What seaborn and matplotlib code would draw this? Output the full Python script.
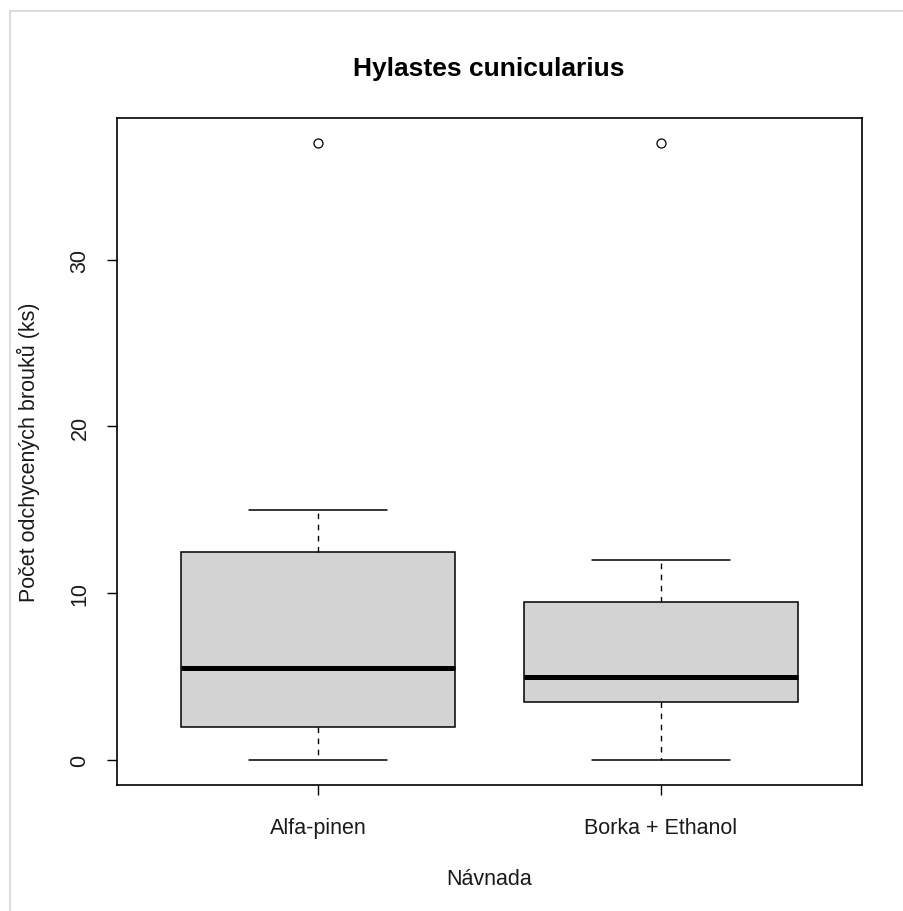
import matplotlib
matplotlib.use("Agg")
import matplotlib.pyplot as plt
import seaborn as sns
from matplotlib.lines import Line2D

# Box statistics per bait (number of trapped beetles)
categories = ["Alfa-pinen", "Borka + Ethanol"]
whisker_low = [0, 0]
q1 = [2, 3.5]
median = [5.5, 5]
q3 = [12.5, 9.5]
whisker_high = [15, 12]
outliers = [[37], [37]]

title = "Hylastes cunicularius"
xlabel = "Návnada"
ylabel = "Počet odchycených brouků (ks)"
yticks = [0, 10, 20, 30]

sns.set_theme(style="white")
plt.rcParams["font.family"] = ["Liberation Sans", "DejaVu Sans"]

W, H = 904, 912
fig = plt.figure(figsize=(W / 100, H / 100), dpi=100)
ax = fig.add_axes([117 / W, 1 - 786 / H, (862 - 117) / W, (786 - 119) / H])

stats = []
for i, name in enumerate(categories):
    stats.append(dict(label=name, whislo=whisker_low[i], q1=q1[i], med=median[i],
                      q3=q3[i], whishi=whisker_high[i], fliers=outliers[i]))

ax.bxp(stats, positions=range(1, len(categories) + 1), widths=0.8,
       patch_artist=True, showfliers=True,
       boxprops=dict(facecolor="#d3d3d3", edgecolor="black", linewidth=1.1),
       medianprops=dict(color="black", linewidth=3.6, solid_capstyle="butt"),
       whiskerprops=dict(color="black", linewidth=1.0, linestyle=(0, (4, 4))),
       capprops=dict(color="black", linewidth=1.1),
       capwidths=0.4,
       flierprops=dict(marker="o", markersize=6.5, markerfacecolor="none",
                       markeredgecolor="black", markeredgewidth=0.9))

ax.set_xlim(0.414, 2.586)
ax.set_ylim(-1.48, 38.48)
ax.set_xticks(range(1, len(categories) + 1))
ax.set_xticklabels(categories, fontsize=15.5, color="#1a1a1a")
ax.set_yticks(yticks)
ax.set_yticklabels([str(t) for t in yticks], fontsize=15.5, rotation=90,
                   va="center", color="#1a1a1a")
ax.tick_params(axis="both", direction="out", length=7, width=1.0, color="black",
               bottom=True, left=True)
ax.tick_params(axis="x", pad=16)
ax.tick_params(axis="y", pad=12)
for s in ax.spines.values():
    s.set_color("black")
    s.set_linewidth(1.2)
    s.set_visible(True)
ax.grid(False)

fig.text(489 / W, 1 - 69 / H, title, ha="center", va="center",
         fontsize=19, fontweight="bold", color="black")
fig.text(489 / W, 1 - 880 / H, xlabel, ha="center", va="center",
         fontsize=15.5, color="#1a1a1a")
fig.text(28 / W, 1 - 452 / H, ylabel, ha="center", va="center",
         rotation=90, fontsize=15.5, color="#1a1a1a")

# light frame at top and left edges
fig.add_artist(Line2D([10 / W, 1], [1 - 12 / H, 1 - 12 / H], transform=fig.transFigure,
                      color="#d6d6d6", linewidth=1.2))
fig.add_artist(Line2D([10 / W, 10 / W], [0, 1 - 12 / H], transform=fig.transFigure,
                      color="#d6d6d6", linewidth=1.2))

fig.savefig("out.png", dpi=100)
